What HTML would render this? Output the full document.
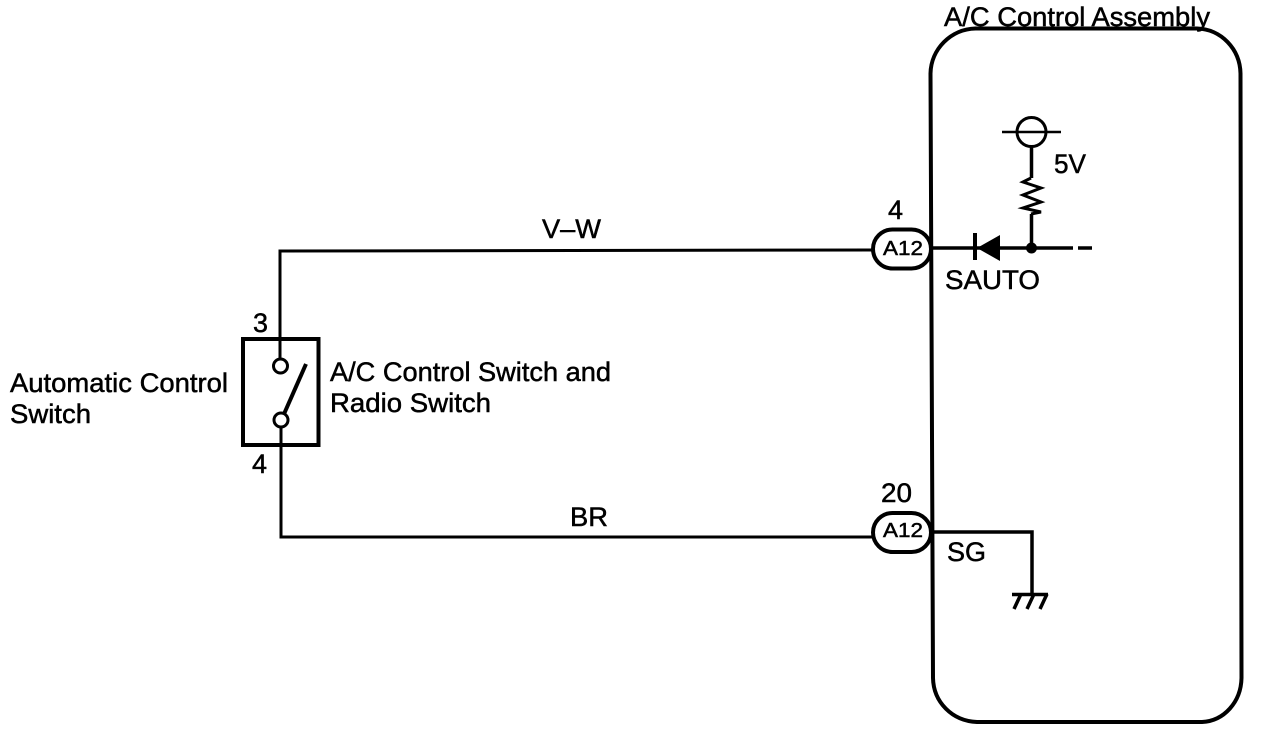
<!DOCTYPE html>
<html><head><meta charset="utf-8"><style>
html,body{margin:0;padding:0;background:#fff;width:1264px;height:732px;overflow:hidden}
svg{display:block}
text{font-family:"Liberation Sans",sans-serif;fill:#000;stroke:#000;stroke-width:.5px}
</style></head><body>
<svg width="1264" height="732" viewBox="0 0 1264 732" xmlns="http://www.w3.org/2000/svg">
<g fill="none" stroke="#000" stroke-width="3">
<path d="M975.500 28.500H1197C1221 29 1240 49 1240.500 73.500L1241.500 678C1241 702 1224 721 1202 722H977C952 721 933.500 702 933 678L930.500 73.500C931 49 951 29 975.500 28.500Z" stroke-width="4"/>
<path d="M873 250L280 251V338M280 338V360"/>
<path d="M281 427V537H873"/>
<rect x="243" y="339" width="75.500" height="106" stroke-width="4"/>
<circle cx="280.500" cy="366" r="7"/>
<circle cx="281" cy="420" r="7"/>
<path d="M284 414L306 364" stroke-width="4"/>
<rect x="873" y="229.500" width="58" height="39" rx="19.500" stroke-width="4"/>
<rect x="873" y="513" width="58" height="39" rx="19.500" stroke-width="4"/>
<path d="M932 248H1073M1078 248H1092" stroke-width="3.500"/>
<path d="M975 233V260" stroke-width="4"/>
<path d="M1031.500 147V178M1031.500 214V248" stroke-width="3.500"/>
<path d="M1031 178L1023 182L1041 188L1023 195L1041 202L1023 208L1041 212L1031 214" stroke-width="3"/>
<circle cx="1031.500" cy="132" r="14.500"/>
<path d="M1002 132H1061" stroke-width="2.500"/>
<path d="M932 532H1032V594" stroke-width="3.500"/>
<path d="M1012 594.500H1048" stroke-width="3.500"/>
<path d="M1021 594L1014 609M1034 594L1027 609M1047 594L1040 609" stroke-width="3.500"/>
</g>
<path d="M1000 235V261L977 248Z" fill="#000"/>
<circle cx="1031.500" cy="248" r="5.500" fill="#000"/>
<text x="944" y="26" font-size="27" textLength="266" lengthAdjust="spacingAndGlyphs">A/C Control Assembly</text>
<text x="1054" y="173" font-size="27" textLength="32" lengthAdjust="spacingAndGlyphs">5V</text>
<text x="945" y="289" font-size="27" textLength="95" lengthAdjust="spacingAndGlyphs">SAUTO</text>
<text x="542" y="238" font-size="27" textLength="59" lengthAdjust="spacingAndGlyphs">V–W</text>
<text x="570" y="526" font-size="27" textLength="38" lengthAdjust="spacingAndGlyphs">BR</text>
<text x="888" y="219" font-size="27" textLength="15" lengthAdjust="spacingAndGlyphs">4</text>
<text x="881" y="502" font-size="27" textLength="31" lengthAdjust="spacingAndGlyphs">20</text>
<text x="883" y="255" font-size="20.500" textLength="40" lengthAdjust="spacingAndGlyphs">A12</text>
<text x="883" y="537" font-size="20.500" textLength="40" lengthAdjust="spacingAndGlyphs">A12</text>
<text x="947" y="561" font-size="27" textLength="39" lengthAdjust="spacingAndGlyphs">SG</text>
<text x="253" y="332" font-size="27" textLength="15" lengthAdjust="spacingAndGlyphs">3</text>
<text x="252" y="473" font-size="27" textLength="15" lengthAdjust="spacingAndGlyphs">4</text>
<text x="10" y="392" font-size="27" textLength="218" lengthAdjust="spacingAndGlyphs">Automatic Control</text>
<text x="10" y="423" font-size="27" textLength="81" lengthAdjust="spacingAndGlyphs">Switch</text>
<text x="330" y="381" font-size="27" textLength="281" lengthAdjust="spacingAndGlyphs">A/C Control Switch and</text>
<text x="330" y="412" font-size="27" textLength="161" lengthAdjust="spacingAndGlyphs">Radio Switch</text>
</svg>
</body></html>
